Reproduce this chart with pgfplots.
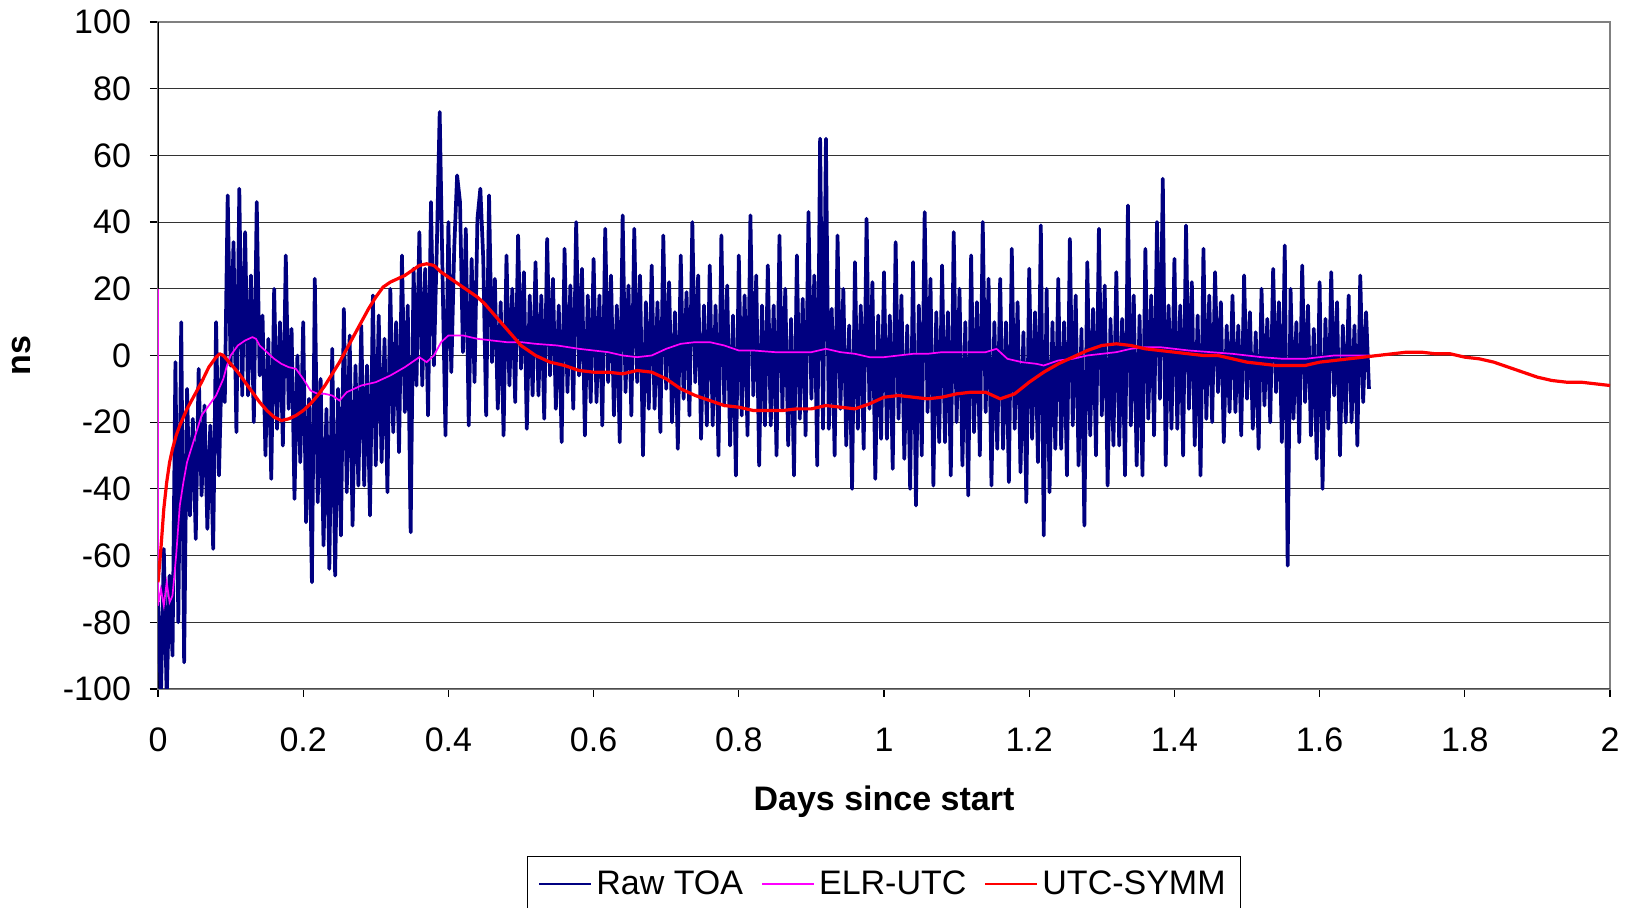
\documentclass[border=0pt]{standalone}
\usepackage{fontspec}
\setmainfont{Liberation Sans}
\usepackage{pgfplots}
\pgfplotsset{compat=1.18}
\definecolor{rawblue}{RGB}{0,0,128}
\definecolor{elrmag}{RGB}{255,0,255}
\definecolor{symred}{RGB}{255,0,0}
\newcommand{\chartfont}{\fontsize{17}{20}\selectfont}

\begin{document}
\begin{tikzpicture}
\begin{axis}[
    scale only axis,
    width=726pt, height=333.5pt,
    xmin=0, xmax=2, ymin=-100, ymax=100,
    xtick={0,0.2,0.4,0.6,0.8,1,1.2,1.4,1.6,1.8,2},
    ytick={-100,-80,-60,-40,-20,0,20,40,60,80,100},
    tick pos=left, tick align=outside, major tick length=4pt,
    tick style={black, line width=0.6pt},
    ymajorgrids, grid style={black!80, line width=0.5pt},
    axis line style={draw=black!50, line width=0.6pt},
    ticklabel style={font=\chartfont},
    /pgf/number format/assume math mode=true,
    xticklabel style={yshift=-12pt},
    yticklabel style={xshift=-6pt},
    xlabel={\bfseries Days since start},
    ylabel={\bfseries ns},
    every axis x label/.style={at={(rel axis cs:0.5,0)}, yshift=-56.5pt, anchor=center, font=\chartfont},
    every axis y label/.style={at={(rel axis cs:0,0.5)}, xshift=-68pt, rotate=90, anchor=center, font=\chartfont},
    legend columns=3,
    legend style={at={(rel axis cs:0.5,0)}, anchor=north, yshift=-83.5pt,
        draw=black, line width=0.6pt, font=\chartfont,
        inner xsep=5.5pt, inner ysep=5pt,
        nodes={inner sep=2pt},
        /tikz/every even column/.append style={column sep=7pt}},
    legend image code/.code={\draw[#1, line width=1pt] (0pt,0pt) -- (26pt,0pt);},
]
\draw[black, line width=0.6pt] (rel axis cs:0,0) -- (rel axis cs:0,1);
\draw[black!70, line width=0.6pt] (rel axis cs:0,0) -- (rel axis cs:1,0);

% Raw TOA
\addplot[rawblue, line width=1.85pt, line join=round] table[row sep=\\] {
x y \\
0 -74 \\ 0.004 -103 \\ 0.008 -58 \\ 0.012 -103 \\ 0.016 -66 \\ 0.020 -90 \\ 0.024 -2 \\ 0.028 -80 \\ 0.032 10 \\ 0.036 -92 \\
0.040 -10 \\ 0.044 -48 \\ 0.048 -19 \\ 0.052 -55 \\ 0.056 -4 \\ 0.060 -42 \\ 0.064 -15 \\ 0.068 -52 \\ 0.072 -21 \\ 0.076 -58 \\
0.080 10 \\ 0.084 -36 \\ 0.088 0 \\ 0.092 -14 \\ 0.096 48 \\ 0.100 -3 \\ 0.104 34 \\ 0.108 -23 \\ 0.112 50 \\ 0.116 -12 \\
0.120 37 \\ 0.124 -12 \\ 0.128 24 \\ 0.132 -20 \\ 0.136 46 \\ 0.140 -6 \\ 0.144 12 \\ 0.148 -30 \\ 0.152 5 \\ 0.156 -37 \\
0.160 20 \\ 0.164 -22 \\ 0.168 10 \\ 0.172 -27 \\ 0.176 30 \\ 0.180 -16 \\ 0.184 8 \\ 0.188 -43 \\ 0.192 0 \\ 0.196 -32 \\
0.200 10 \\ 0.204 -50 \\ 0.208 -13 \\ 0.212 -68 \\ 0.216 23 \\ 0.220 -44 \\ 0.224 -7 \\ 0.228 -57 \\ 0.232 -16 \\ 0.236 -64 \\
0.240 2 \\ 0.244 -66 \\ 0.248 -10 \\ 0.252 -54 \\ 0.256 14 \\ 0.260 -41 \\ 0.264 6 \\ 0.268 -51 \\ 0.272 -3 \\ 0.276 -39 \\
0.280 9 \\ 0.284 -39 \\ 0.288 -3 \\ 0.292 -48 \\ 0.296 18 \\ 0.300 -33 \\ 0.304 12 \\ 0.308 -32 \\ 0.312 5 \\ 0.316 -41 \\
0.320 20 \\ 0.324 -23 \\ 0.328 10 \\ 0.332 -29 \\ 0.336 30 \\ 0.340 -17 \\ 0.344 15 \\ 0.348 -53 \\ 0.352 26 \\ 0.356 -9 \\
0.360 37 \\ 0.364 -9 \\ 0.368 26 \\ 0.372 -18 \\ 0.376 46 \\ 0.380 -3 \\ 0.384 32 \\ 0.388 73 \\ 0.392 23 \\ 0.396 -24 \\
0.400 40 \\ 0.404 -5 \\ 0.408 32 \\ 0.412 54 \\ 0.416 46 \\ 0.420 1 \\ 0.424 38 \\ 0.428 -21 \\ 0.432 29 \\ 0.436 -8 \\
0.440 41 \\ 0.444 50 \\ 0.448 29 \\ 0.452 -18 \\ 0.456 48 \\ 0.460 -2 \\ 0.464 23 \\ 0.468 -16 \\ 0.472 16 \\ 0.476 -24 \\
0.480 30 \\ 0.484 -9 \\ 0.488 20 \\ 0.492 -14 \\ 0.496 36 \\ 0.500 -4 \\ 0.504 25 \\ 0.508 -22 \\ 0.512 18 \\ 0.516 -12 \\
0.520 28 \\ 0.524 -12 \\ 0.528 18 \\ 0.532 -19 \\ 0.536 35 \\ 0.540 -6 \\ 0.544 23 \\ 0.548 -16 \\ 0.552 15 \\ 0.556 -26 \\
0.560 32 \\ 0.564 -11 \\ 0.568 21 \\ 0.572 -16 \\ 0.576 40 \\ 0.580 -6 \\ 0.584 26 \\ 0.588 -24 \\ 0.592 18 \\ 0.596 -14 \\
0.600 29 \\ 0.604 -14 \\ 0.608 18 \\ 0.612 -21 \\ 0.616 38 \\ 0.620 -8 \\ 0.624 24 \\ 0.628 -18 \\ 0.632 15 \\ 0.636 -26 \\
0.640 42 \\ 0.644 -11 \\ 0.648 21 \\ 0.652 -18 \\ 0.656 38 \\ 0.660 -8 \\ 0.664 24 \\ 0.668 -30 \\ 0.672 16 \\ 0.676 -16 \\
0.680 27 \\ 0.684 -16 \\ 0.688 16 \\ 0.692 -23 \\ 0.696 36 \\ 0.700 -10 \\ 0.704 22 \\ 0.708 -20 \\ 0.712 13 \\ 0.716 -28 \\
0.720 30 \\ 0.724 -13 \\ 0.728 19 \\ 0.732 -18 \\ 0.736 40 \\ 0.740 -8 \\ 0.744 24 \\ 0.748 -25 \\ 0.752 15 \\ 0.756 -21 \\
0.760 27 \\ 0.764 -21 \\ 0.768 15 \\ 0.772 -30 \\ 0.776 36 \\ 0.780 -15 \\ 0.784 21 \\ 0.788 -27 \\ 0.792 12 \\ 0.796 -36 \\
0.800 30 \\ 0.804 -18 \\ 0.808 18 \\ 0.812 -24 \\ 0.816 42 \\ 0.820 -12 \\ 0.824 24 \\ 0.828 -33 \\ 0.832 15 \\ 0.836 -21 \\
0.840 27 \\ 0.844 -21 \\ 0.848 15 \\ 0.852 -30 \\ 0.856 36 \\ 0.860 -16 \\ 0.864 20 \\ 0.868 -27 \\ 0.872 11 \\ 0.876 -36 \\
0.880 30 \\ 0.884 -19 \\ 0.888 17 \\ 0.892 -24 \\ 0.896 43 \\ 0.900 -13 \\ 0.904 24 \\ 0.908 -33 \\ 0.912 65 \\ 0.916 -22 \\
0.920 65 \\ 0.924 -22 \\ 0.928 14 \\ 0.932 -30 \\ 0.936 36 \\ 0.940 -16 \\ 0.944 20 \\ 0.948 -27 \\ 0.952 9 \\ 0.956 -40 \\
0.960 28 \\ 0.964 -22 \\ 0.968 15 \\ 0.972 -28 \\ 0.976 41 \\ 0.980 -16 \\ 0.984 22 \\ 0.988 -37 \\ 0.992 12 \\ 0.996 -25 \\
1.000 25 \\ 1.004 -25 \\ 1.008 12 \\ 1.012 -34 \\ 1.016 34 \\ 1.020 -19 \\ 1.024 18 \\ 1.028 -31 \\ 1.032 9 \\ 1.036 -40 \\
1.040 28 \\ 1.044 -45 \\ 1.048 15 \\ 1.052 -30 \\ 1.056 43 \\ 1.060 -17 \\ 1.064 23 \\ 1.068 -39 \\ 1.072 13 \\ 1.076 -26 \\
1.080 27 \\ 1.084 -26 \\ 1.088 13 \\ 1.092 -36 \\ 1.096 37 \\ 1.100 -20 \\ 1.104 20 \\ 1.108 -33 \\ 1.112 10 \\ 1.116 -42 \\
1.120 30 \\ 1.124 -23 \\ 1.128 16 \\ 1.132 -30 \\ 1.136 40 \\ 1.140 -17 \\ 1.144 23 \\ 1.148 -39 \\ 1.152 10 \\ 1.156 -28 \\
1.160 23 \\ 1.164 -28 \\ 1.168 10 \\ 1.172 -38 \\ 1.176 32 \\ 1.180 -22 \\ 1.184 16 \\ 1.188 -35 \\ 1.192 7 \\ 1.196 -44 \\
1.200 26 \\ 1.204 -25 \\ 1.208 13 \\ 1.212 -32 \\ 1.216 39 \\ 1.220 -54 \\ 1.224 20 \\ 1.228 -41 \\ 1.232 10 \\ 1.236 -28 \\
1.240 23 \\ 1.244 -28 \\ 1.248 10 \\ 1.252 -36 \\ 1.256 35 \\ 1.260 -21 \\ 1.264 18 \\ 1.268 -33 \\ 1.272 8 \\ 1.276 -51 \\
1.280 28 \\ 1.284 -24 \\ 1.288 14 \\ 1.292 -30 \\ 1.296 38 \\ 1.300 -18 \\ 1.304 21 \\ 1.308 -39 \\ 1.312 11 \\ 1.316 -27 \\
1.320 25 \\ 1.324 -27 \\ 1.328 11 \\ 1.332 -36 \\ 1.336 45 \\ 1.340 -21 \\ 1.344 18 \\ 1.348 -33 \\ 1.352 12 \\ 1.356 -36 \\
1.360 32 \\ 1.364 -19 \\ 1.368 18 \\ 1.372 -24 \\ 1.376 40 \\ 1.380 -13 \\ 1.384 53 \\ 1.388 -33 \\ 1.392 15 \\ 1.396 -22 \\
1.400 29 \\ 1.404 -22 \\ 1.408 15 \\ 1.412 -30 \\ 1.416 39 \\ 1.420 -16 \\ 1.424 22 \\ 1.428 -27 \\ 1.432 12 \\ 1.436 -36 \\
1.440 32 \\ 1.444 -19 \\ 1.448 18 \\ 1.452 -20 \\ 1.456 25 \\ 1.460 -11 \\ 1.464 16 \\ 1.468 -26 \\ 1.472 9 \\ 1.476 -17 \\
1.480 18 \\ 1.484 -17 \\ 1.488 9 \\ 1.492 -24 \\ 1.496 24 \\ 1.500 -13 \\ 1.504 13 \\ 1.508 -22 \\ 1.512 7 \\ 1.516 -28 \\
1.520 20 \\ 1.524 -15 \\ 1.528 11 \\ 1.532 -20 \\ 1.536 26 \\ 1.540 -11 \\ 1.544 16 \\ 1.548 -26 \\ 1.552 33 \\ 1.556 -63 \\
1.560 20 \\ 1.564 -19 \\ 1.568 10 \\ 1.572 -26 \\ 1.576 27 \\ 1.580 -14 \\ 1.584 15 \\ 1.588 -24 \\ 1.592 8 \\ 1.596 -31 \\
1.600 22 \\ 1.604 -40 \\ 1.608 11 \\ 1.612 -22 \\ 1.616 25 \\ 1.620 -12 \\ 1.624 16 \\ 1.628 -30 \\ 1.632 9 \\ 1.636 -20 \\
1.640 18 \\ 1.644 -20 \\ 1.648 9 \\ 1.652 -27 \\ 1.656 24 \\ 1.660 -14 \\ 1.664 13 \\ 1.668 -10 \\
};
\addlegendentry{Raw TOA}

% ELR-UTC
\addplot[elrmag, line width=0.85pt] coordinates {
(0,20) (0,-75) (0.004,-70) (0.008,-75) (0.012,-68) (0.016,-74) (0.02,-72) (0.025,-60) (0.03,-45) (0.035,-38)
(0.04,-32) (0.05,-25) (0.06,-18) (0.07,-15) (0.08,-12) (0.09,-7) (0.095,-3) (0.1,0) (0.11,3) (0.12,4.5)
(0.13,5.5) (0.135,5) (0.14,3) (0.15,1) (0.16,-1) (0.17,-2.5) (0.18,-3.5) (0.19,-4) (0.2,-7) (0.21,-10.5)
(0.22,-11.5) (0.23,-11.5) (0.24,-12) (0.25,-13.5) (0.26,-11) (0.27,-10) (0.28,-9) (0.3,-8) (0.32,-6) (0.34,-3.5)
(0.35,-2) (0.36,-0.5) (0.37,-2) (0.38,0) (0.39,4) (0.4,6) (0.42,6) (0.44,5) (0.46,4.5) (0.48,4)
(0.5,4) (0.52,3.5) (0.55,3) (0.58,2) (0.6,1.5) (0.62,1) (0.64,0) (0.66,-0.5) (0.68,0) (0.7,2)
(0.72,3.5) (0.74,4) (0.76,4) (0.78,3) (0.8,1.5) (0.82,1.5) (0.85,1) (0.88,1) (0.9,1) (0.92,2)
(0.94,1) (0.96,0.5) (0.98,-0.5) (1.0,-0.5) (1.02,0) (1.04,0.5) (1.06,0.5) (1.08,1) (1.1,1) (1.12,1)
(1.14,1) (1.155,2) (1.17,-1) (1.19,-2) (1.21,-2.5) (1.22,-3) (1.24,-1.5) (1.26,-1) (1.28,0) (1.3,0.5)
(1.32,1) (1.34,2) (1.36,2.5) (1.38,2.5) (1.4,2) (1.42,1.5) (1.45,1) (1.48,0.5) (1.5,0) (1.52,-0.5)
(1.55,-1) (1.58,-1) (1.6,-0.5) (1.62,0) (1.645,0) (1.668,0)
};
\addlegendentry{ELR-UTC}

% UTC-SYMM
\addplot[symred, line width=1.6pt, line join=round] coordinates {
(0,-68) (0.004,-58) (0.008,-46) (0.012,-38) (0.016,-32) (0.02,-28) (0.025,-24) (0.03,-21) (0.04,-16) (0.05,-12)
(0.06,-8) (0.07,-3.5) (0.08,-0.5) (0.085,0.5) (0.09,0) (0.1,-2.5) (0.11,-5) (0.12,-8) (0.13,-11) (0.14,-14)
(0.15,-16.5) (0.16,-18.5) (0.17,-19.5) (0.18,-19) (0.19,-18) (0.2,-16.5) (0.21,-14.5) (0.22,-12) (0.23,-9) (0.24,-5.5)
(0.25,-2) (0.26,2) (0.27,6) (0.28,10) (0.29,14) (0.3,17.5) (0.31,20.5) (0.32,22) (0.33,23) (0.34,24)
(0.35,25.5) (0.36,27) (0.37,27.5) (0.38,27) (0.39,25) (0.4,23.5) (0.41,22) (0.42,20.5) (0.43,19) (0.44,17.5)
(0.45,15.5) (0.46,13) (0.47,10.5) (0.48,8) (0.49,5.5) (0.5,3) (0.51,1.5) (0.52,0) (0.53,-1) (0.54,-2)
(0.56,-3) (0.58,-4.5) (0.6,-5) (0.62,-5) (0.64,-5.5) (0.66,-4.5) (0.68,-5) (0.7,-7) (0.72,-10) (0.74,-12)
(0.76,-13.5) (0.78,-15) (0.8,-15.5) (0.82,-16.5) (0.84,-16.5) (0.86,-16.5) (0.88,-16) (0.9,-16) (0.92,-15) (0.94,-15.5)
(0.96,-16) (0.98,-14.5) (1.0,-12.5) (1.02,-12) (1.04,-12.5) (1.06,-13) (1.08,-12.5) (1.1,-11.5) (1.12,-11) (1.14,-11)
(1.16,-13) (1.18,-11.5) (1.2,-8) (1.22,-5) (1.24,-2.5) (1.26,-0.5) (1.28,1.5) (1.3,3) (1.32,3.5) (1.34,3)
(1.36,2) (1.38,1.5) (1.4,1) (1.42,0.5) (1.44,0) (1.46,0) (1.48,-1) (1.5,-2) (1.52,-2.5) (1.54,-3)
(1.56,-3) (1.58,-3) (1.6,-2) (1.62,-1.5) (1.64,-1) (1.66,-0.5) (1.68,0) (1.7,0.5) (1.72,1) (1.74,1)
(1.76,0.5) (1.78,0.5) (1.8,-0.5) (1.82,-1) (1.84,-2) (1.86,-3.5) (1.88,-5) (1.9,-6.5) (1.92,-7.5) (1.94,-8)
(1.96,-8) (1.98,-8.5) (2.0,-9)
};
\addlegendentry{UTC-SYMM}
\end{axis}
\pgfresetboundingbox
\useasboundingbox (-79pt,-109.5pt) rectangle (736.5pt,344.5pt);
\end{tikzpicture}
\end{document}
